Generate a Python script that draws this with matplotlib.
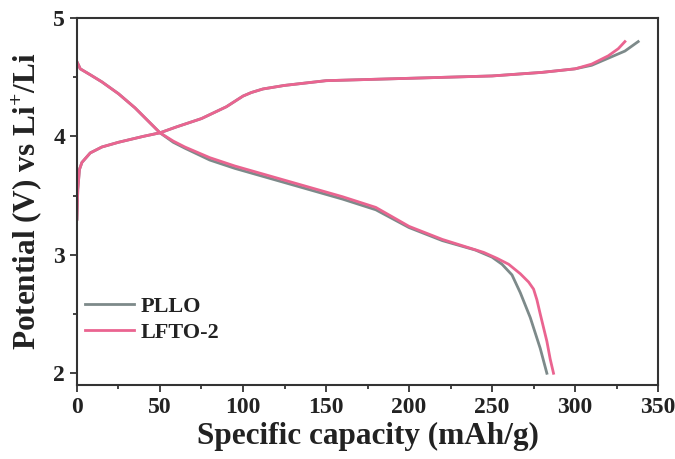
import numpy as np
import matplotlib
matplotlib.use('Agg')
import matplotlib.pyplot as plt
from matplotlib.ticker import MultipleLocator

plt.rcParams['font.family'] = ['Liberation Serif', 'DejaVu Serif']
plt.rcParams['font.weight'] = 'bold'
plt.rcParams['mathtext.fontset'] = 'custom'
plt.rcParams['mathtext.rm'] = 'Liberation Serif:bold'
plt.rcParams['mathtext.bf'] = 'Liberation Serif:bold'

# charge curves (capacity mAh/g, potential V)
pllo_chg_x = [0, 0.5, 1.5, 3, 8, 15, 25, 40, 50, 60, 75, 90, 100, 105, 112, 125, 150,
              200, 250, 280, 300, 310, 320, 330, 338]
pllo_chg_v = [3.3, 3.55, 3.72, 3.78, 3.86, 3.91, 3.95, 4.0, 4.03, 4.08, 4.15, 4.25,
              4.34, 4.37, 4.4, 4.43, 4.47, 4.49, 4.51, 4.54, 4.57, 4.6, 4.66, 4.72, 4.8]
lfto_chg_x = [0, 0.5, 1.5, 3, 8, 15, 25, 40, 50, 60, 75, 90, 100, 105, 112, 125, 150,
              200, 250, 280, 300, 310, 320, 326, 330]
lfto_chg_v = [3.3, 3.55, 3.72, 3.78, 3.86, 3.91, 3.95, 4.0, 4.03, 4.08, 4.15, 4.25,
              4.34, 4.37, 4.4, 4.43, 4.47, 4.49, 4.51, 4.54, 4.57, 4.61, 4.68, 4.74, 4.8]

# discharge curves
pllo_dis_x = [0, 2, 8, 15, 25, 35, 50, 58, 65, 80, 95, 110, 125, 140, 160, 180, 200,
              220, 240, 250, 256, 262, 267, 273, 279, 283]
pllo_dis_v = [4.63, 4.57, 4.52, 4.46, 4.36, 4.24, 4.03, 3.95, 3.9, 3.8, 3.73, 3.67,
              3.61, 3.55, 3.47, 3.38, 3.23, 3.12, 3.04, 2.98, 2.92, 2.83, 2.68, 2.47,
              2.21, 2.0]
lfto_dis_x = [0, 2, 8, 15, 25, 35, 50, 58, 65, 80, 95, 110, 125, 140, 160, 180, 200,
              220, 245, 253, 260, 267, 272, 275, 277, 279, 283, 285, 287]
lfto_dis_v = [4.63, 4.57, 4.52, 4.46, 4.36, 4.24, 4.03, 3.96, 3.91, 3.82, 3.75, 3.69,
              3.63, 3.57, 3.49, 3.4, 3.24, 3.13, 3.02, 2.97, 2.92, 2.84, 2.77, 2.71,
              2.62, 2.5, 2.27, 2.12, 2.0]

c_pllo = '#7d8a8a'
c_lfto = '#ea6490'
txt = '#222222'

fig = plt.figure(figsize=(6.75, 4.59), dpi=100)
ax = fig.add_axes([0.114, 0.161, 0.861, 0.80])

ax.plot(pllo_chg_x, pllo_chg_v, color=c_pllo, lw=2, label='PLLO')
ax.plot(pllo_dis_x, pllo_dis_v, color=c_pllo, lw=2)
ax.plot(lfto_chg_x, lfto_chg_v, color=c_lfto, lw=2, label='LFTO-2')
ax.plot(lfto_dis_x, lfto_dis_v, color=c_lfto, lw=2)

ax.set_xlim(0, 350)
ax.set_ylim(1.9, 5)
ax.xaxis.set_major_locator(MultipleLocator(50))
ax.xaxis.set_minor_locator(MultipleLocator(25))
ax.yaxis.set_major_locator(MultipleLocator(1))
ax.yaxis.set_minor_locator(MultipleLocator(0.5))
ax.tick_params(which='both', direction='out', labelsize=17, colors=txt, width=1.2)
ax.tick_params(which='major', length=5)
ax.tick_params(which='minor', length=3)
for s in ax.spines.values():
    s.set_linewidth(1.5)
    s.set_color('#333333')

ax.set_xlabel('Specific capacity (mAh/g)', fontsize=22.5, fontweight='bold', color=txt, labelpad=3)
ax.set_ylabel(r'Potential (V) vs Li$^{+}$/Li', fontsize=22.5, fontweight='bold', color=txt, labelpad=6)

ax.legend(loc='lower left', bbox_to_anchor=(-0.02, 0.06), frameon=False, fontsize=16,
          handlelength=2.2, handletextpad=0.3, labelspacing=0.25, labelcolor=txt)

fig.savefig('out.png', dpi=100)
